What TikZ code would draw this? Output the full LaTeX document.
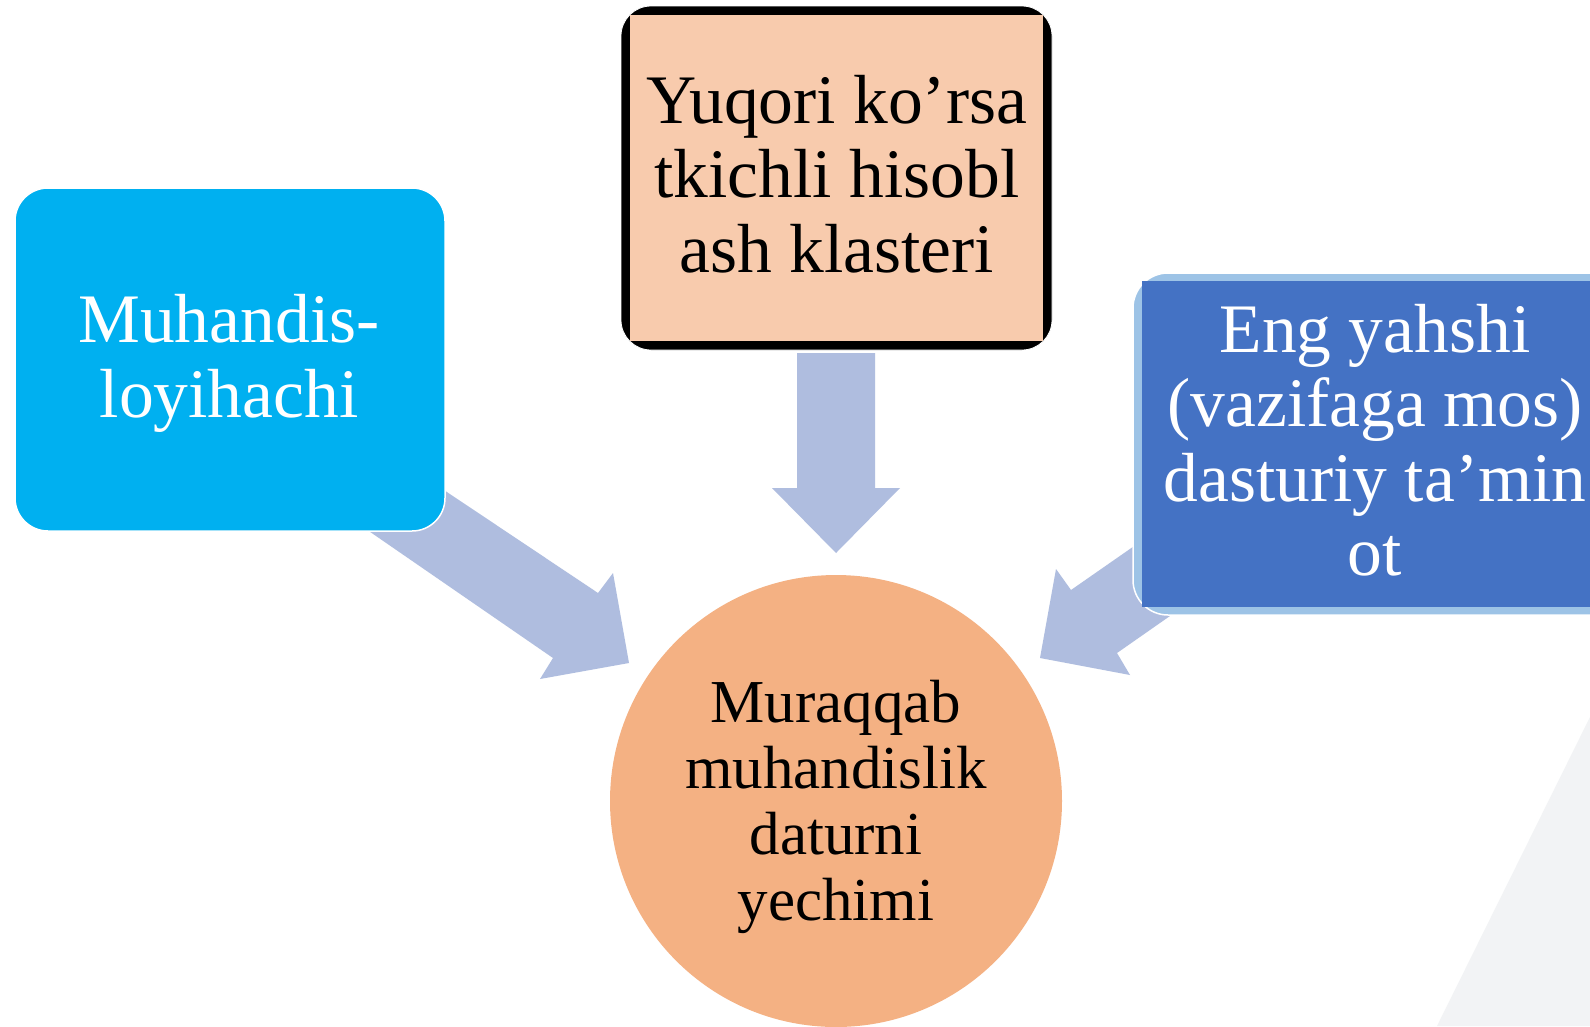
\documentclass[tikz,border=0pt]{standalone}
\usepackage{fontspec}
\setmainfont{Liberation Serif}
\definecolor{cyanbox}{HTML}{00B0F0}
\definecolor{peach}{HTML}{F8CBAD}
\definecolor{darkblue}{HTML}{4472C4}
\definecolor{lightblue}{HTML}{9DC3E6}
\definecolor{circfill}{HTML}{F4B183}
\definecolor{arrowfill}{HTML}{AFBDDF}
\definecolor{greytri}{HTML}{F2F3F5}
\begin{document}
\begin{tikzpicture}[x=1pt,y=-1pt,
  boxtext/.style={align=center, inner sep=0pt},
  bigfont/.style={font={\fontsize{69.5}{74.5}\selectfont}},
  circfont/.style={font={\fontsize{61}{66}\selectfont}},
  blockarrow/.style={fill=arrowfill}]
\useasboundingbox (0,0) rectangle (1590,1026);
\clip (0,0) rectangle (1590,1026);
\fill[white] (0,0) rectangle (1590,1026);
% background corner shape
\fill[greytri] (1590,717) -- (1437,1026) -- (1590,1026) -- cycle;
% block arrows
\fill[blockarrow] (797,353) -- (875,353) -- (875,488) -- (900,488) -- (836,553) -- (772,488) -- (797,488) -- cycle;
\fill[blockarrow] (402,462) -- (598,593) -- (613,573) -- (629,663) -- (540,679) -- (553,658) -- (318,496) -- cycle;
\fill[blockarrow] (1150,535) -- (1071,590) -- (1056,569) -- (1040,658) -- (1130,675) -- (1117,653) -- (1200,595) -- cycle;
% left box
\filldraw[fill=cyanbox, draw=white, line width=1.5pt, rounded corners=33pt] (15,188) rectangle (445,531);
% top box
\filldraw[fill=black, draw=white, line width=0.8pt, rounded corners=30pt] (621,6) rectangle (1052,350);
\fill[peach] (630,15) rectangle (1043,341);
% right box
\filldraw[fill=lightblue, draw=white, line width=1.5pt, rounded corners=35pt] (1133,273) rectangle (1660,615);
\fill[darkblue] (1142,281) rectangle (1660,607);
% circle
\fill[circfill] (836,801) circle (226);
% texts
\node[boxtext, bigfont, text=white] (engineer) at (229,365) {\strut Muhandis-\\\strut loyihachi};
\node[boxtext, bigfont, text=black] (cluster) at (837,183) {\strut Yuqori ko’rsa\\\strut tkichli hisobl\\\strut ash klasteri};
\node[boxtext, bigfont, text=white] (software) at (1375,449) {\strut Eng yahshi\\\strut (vazifaga mos)\\\strut dasturiy ta’min\\\strut ot};
\node[boxtext, circfont, text=black] (solution) at (836,808) {\strut Muraqqab\\\strut muhandislik\\\strut daturni\\\strut yechimi};
\end{tikzpicture}
\end{document}
